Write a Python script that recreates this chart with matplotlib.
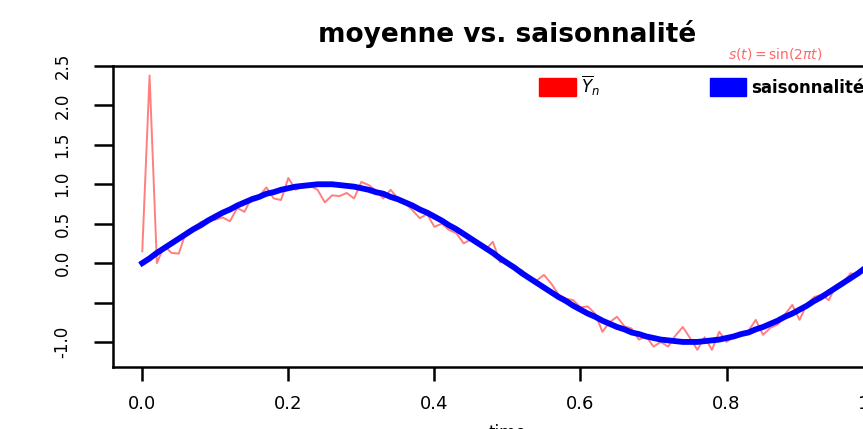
import matplotlib
matplotlib.use("agg")
import matplotlib.pyplot as plt
from matplotlib.patches import Patch

# time grid (step 0.01)
t = [i / 100 for i in range(101)]

# seasonal component s(t) = sin(2*pi*t), values read at each step
saison = [0.00, 0.06, 0.13, 0.19, 0.25, 0.31, 0.37, 0.43, 0.48, 0.54,
          0.59, 0.64, 0.68, 0.73, 0.77, 0.81, 0.84, 0.88, 0.90, 0.93,
          0.95, 0.97, 0.98, 0.99, 1.00, 1.00, 1.00, 0.99, 0.98, 0.97,
          0.95, 0.93, 0.90, 0.88, 0.84, 0.81, 0.77, 0.73, 0.68, 0.64,
          0.59, 0.54, 0.48, 0.43, 0.37, 0.31, 0.25, 0.19, 0.13, 0.06,
          0.00, -0.06, -0.13, -0.19, -0.25, -0.31, -0.37, -0.43, -0.48, -0.54,
          -0.59, -0.64, -0.68, -0.73, -0.77, -0.81, -0.84, -0.88, -0.90, -0.93,
          -0.95, -0.97, -0.98, -0.99, -1.00, -1.00, -1.00, -0.99, -0.98, -0.97,
          -0.95, -0.93, -0.90, -0.88, -0.84, -0.81, -0.77, -0.73, -0.68, -0.64,
          -0.59, -0.54, -0.48, -0.43, -0.37, -0.31, -0.25, -0.19, -0.13, -0.06,
          0.00]

# empirical mean
moyenne = [0.15, 2.38, 0.00, 0.22, 0.13, 0.12, 0.40, 0.45, 0.52, 0.55,
           0.55, 0.58, 0.53, 0.70, 0.65, 0.84, 0.85, 0.96, 0.82, 0.80,
           1.08, 0.93, 0.97, 0.98, 0.93, 0.77, 0.86, 0.85, 0.89, 0.82,
           1.03, 0.99, 0.92, 0.82, 0.93, 0.82, 0.76, 0.67, 0.57, 0.62,
           0.46, 0.50, 0.42, 0.38, 0.25, 0.30, 0.24, 0.17, 0.27, 0.01,
           0.02, -0.06, -0.09, -0.18, -0.22, -0.15, -0.26, -0.40, -0.45, -0.47,
           -0.56, -0.55, -0.64, -0.87, -0.75, -0.68, -0.80, -0.83, -0.97, -0.93,
           -1.06, -1.00, -1.06, -0.92, -0.81, -0.95, -1.10, -0.94, -1.10, -0.87,
           -1.00, -0.93, -0.88, -0.86, -0.72, -0.91, -0.82, -0.78, -0.65, -0.53,
           -0.72, -0.52, -0.43, -0.40, -0.47, -0.28, -0.24, -0.13, -0.15, -0.09,
           0.00]

xticks = [0.0, 0.2, 0.4, 0.6, 0.8, 1.0]
xticklabels = ["0.0", "0.2", "0.4", "0.6", "0.8", "1.0"]
yticks = [-1.0, -0.5, 0.0, 0.5, 1.0, 1.5, 2.0, 2.5]
yticklabels = ["-1.0", "", "0.0", "0.5", "1.0", "1.5", "2.0", "2.5"]

fig = plt.figure(figsize=(8.63, 4.29), dpi=100)
ax = fig.add_axes([0.131, 0.1445, 0.914, 0.7016])

ax.plot(t, moyenne, color="red", alpha=0.5, lw=1.4)
ax.plot(t, saison, color="blue", lw=4.2)

ax.set_xlim(-0.04, 1.04)
ax.set_ylim(-1.318, 2.5)
ax.set_xticks(xticks)
ax.set_xticklabels(xticklabels)
ax.set_yticks(yticks)
ax.set_yticklabels(yticklabels, rotation=90, va="center")

for s in ax.spines.values():
    s.set_linewidth(1.8)
ax.tick_params(axis="y", length=14, width=1.8, pad=16, labelsize=12)
ax.tick_params(axis="x", length=10, width=1.8, pad=10, labelsize=13)

ax.set_title("moyenne vs. saisonnalité", fontsize=19, fontweight="bold", pad=17)
ax.set_xlabel("time", fontsize=12, labelpad=8)

ax.text(0.867, 1.04, r"$s(t) = \sin(2\pi t)$", color="red", alpha=0.6,
        fontsize=10, ha="center", va="center",
        transform=ax.get_xaxis_transform())

handles = [Patch(color="red"), Patch(color="blue")]
ax.legend(handles, [r"$\overline{Y}_n$", "saisonnalité"], ncol=2,
          loc="upper left", bbox_to_anchor=(0.54, 0.975), frameon=False,
          borderpad=0, borderaxespad=0, handlelength=2.2, handleheight=1.3,
          handletextpad=0.3, columnspacing=6.6, fontsize=12,
          prop={"size": 12, "weight": "bold"})

plt.savefig("out.png", dpi=100)
